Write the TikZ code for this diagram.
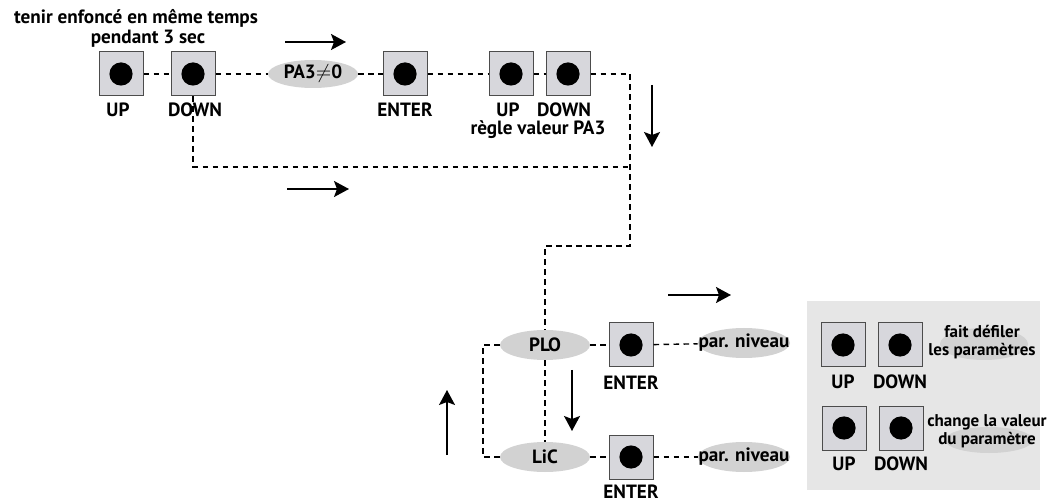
\documentclass[tikz,border=0pt]{standalone}
\usepackage{fontspec}
\setmainfont{PT Sans}
\usetikzlibrary{positioning,arrows.meta,shapes.geometric}
\definecolor{btngray}{HTML}{D7D7DC}
\definecolor{ovalgray}{HTML}{D2D2D2}
\definecolor{panelgray}{HTML}{E6E6E6}

\begin{document}
\begin{tikzpicture}[
x=0.5pt, y=-0.5pt,
font=\fontsize{9.6}{11}\selectfont\bfseries,
btn/.style={draw=black!70, fill=btngray, line width=0.5pt, minimum size=22pt, inner sep=0pt,
  path picture={\fill[black] (path picture bounding box.center) circle (5.8pt);}},
oval/.style={ellipse, fill=ovalgray, minimum width=45pt, minimum height=14pt, inner sep=0pt},
lbl/.style={inner sep=0pt},
note/.style={inner sep=0pt, align=center, font=\fontsize{8.5}{9}\selectfont\bfseries},
link/.style={dash pattern=on 2.8pt off 2.2pt, line width=0.7pt},
move/.style={-{Stealth[length=7.5pt,width=8pt,inset=1.5pt]}, line width=0.7pt}
]
\useasboundingbox (0,0) rectangle (1050,502);

% top row
\node[lbl] (hold1) at (136,18) {tenir enfoncé en même temps};
\node[lbl] (hold2) at (148,39) {pendant 3 sec};
\node[btn] (upA) at (121,74) {};
\node[btn] (downA) at (193,74) {};
\node[oval] (pa3) at (313,74) {};
\node[lbl] (pa3-t) at (pa3) {PA3$\neq$0};
\node[btn] (enterA) at (405,74) {};
\node[btn] (upB) at (511,74) {};
\node[btn] (downB) at (568,74) {};
\node[lbl] (upA-t) at (118,110) {UP};
\node[lbl] (downA-t) at (195,110) {DOWN};
\node[lbl] (enterA-t) at (405,110) {ENTER};
\node[lbl] (upB-t) at (508,110) {UP};
\node[lbl] (downB-t) at (564,110) {DOWN};
\node[lbl] (pa3val) at (538,130) {règle valeur PA3};

\coordinate (turnA) at (630,74);
\coordinate (turnB) at (630,246);
\coordinate (turnC) at (545,246);
\coordinate (joinR) at (630,167);
\coordinate (loopL) at (483,400);

% lower loop
\node[oval, minimum height=15pt] (plo) at (545,345) {};
\node[lbl] (plo-t) at (plo) {PLO};
\node[oval, minimum height=15pt] (lic) at (545,457) {};
\node[lbl] (lic-t) at (lic) {LiC};
\node[btn] (enterC) at (631,345) {};
\node[btn] (enterD) at (631,457) {};
\node[lbl] (enterC-t) at (631,383) {ENTER};
\node[lbl] (enterD-t) at (631,492) {ENTER};
\node[oval, minimum width=46pt, minimum height=15pt] (parA) at (744,343) {};
\node[lbl] (parA-t) at (parA) {par. niveau};
\node[oval, minimum width=46pt, minimum height=15pt] (parB) at (744,457) {};
\node[lbl] (parB-t) at (parB) {par. niveau};

% legend
\node[fill=panelgray, minimum width=116.5pt, minimum height=94.5pt, inner sep=0pt] (legend) at (923.5,395.5) {};
\node[btn] (upC) at (843,345) {};
\node[btn] (downC) at (900,345) {};
\node[lbl] (upC-t) at (843,382) {UP};
\node[lbl] (downC-t) at (900,382) {DOWN};
\node[oval, minimum width=44pt, minimum height=16pt] (scrollO) at (984,344) {};
\node[note] (scroll-t) at (982,342) {fait défiler\\les paramètres};
\node[btn] (upD) at (844,428) {};
\node[btn] (downD) at (901,428) {};
\node[lbl] (upD-t) at (844,464) {UP};
\node[lbl] (downD-t) at (901,464) {DOWN};
\node[oval, minimum width=44pt, minimum height=13pt] (valO) at (989,440) {};
\node[note] (val-t) at (987,431) {change la valeur\\du paramètre};

% dashed paths
\draw[link] (upA) -- (downA);
\draw[link] (downA) -- (pa3);
\draw[link] (pa3) -- (enterA);
\draw[link] (enterA) -- (upB);
\draw[link] (upB) -- (downB);
\draw[link] (downB.east) -- (turnA) -- (turnB) -- (turnC) -- (plo.north);
\draw[link] (downA.south) |- (joinR);
\draw[link] (plo.south) -- (lic.north);
\draw[link] (plo) -- (enterC);
\draw[link] (enterC) -- (parA);
\draw[link] (lic) -- (enterD);
\draw[link] (enterD) -- (parB);
\draw[link] (plo.west) -| (loopL) |- (lic.west);

% direction arrows
\coordinate (a1s) at (285,42);  \coordinate (a1e) at (346,42);
\coordinate (a2s) at (652,85);  \coordinate (a2e) at (652,147);
\coordinate (a3s) at (287,189); \coordinate (a3e) at (349,189);
\coordinate (a4s) at (668,295); \coordinate (a4e) at (731,295);
\coordinate (a5s) at (572,370); \coordinate (a5e) at (572,431);
\coordinate (a6s) at (447,455); \coordinate (a6e) at (447,390);
\draw[move] (a1s) -- (a1e);
\draw[move] (a2s) -- (a2e);
\draw[move] (a3s) -- (a3e);
\draw[move] (a4s) -- (a4e);
\draw[move] (a5s) -- (a5e);
\draw[move] (a6s) -- (a6e);

\end{tikzpicture}
\end{document}
